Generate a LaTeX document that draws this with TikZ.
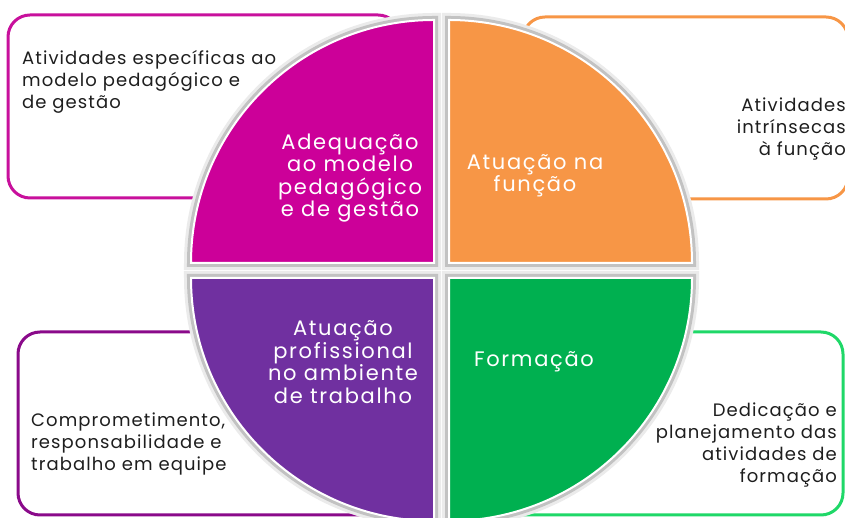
\documentclass[tikz,border=0pt]{standalone}
\usepackage{fontspec}
\setmainfont{Poppins}
\newfontfamily\boxfont[LetterSpace=6]{Poppins}
\newfontfamily\quadfont[LetterSpace=8]{Poppins}
\usetikzlibrary{positioning}

\definecolor{magentaQ}{HTML}{CC0099}
\definecolor{orangeQ}{HTML}{F79646}
\definecolor{purpleQ}{HTML}{7030A0}
\definecolor{greenQ}{HTML}{00B050}
\definecolor{magentaB}{HTML}{C8109C}
\definecolor{purpleB}{HTML}{8A0A8A}
\definecolor{greenB}{HTML}{1FD868}
\definecolor{textB}{HTML}{1E1E1E}

\tikzset{
  outerbox/.style={shape=rectangle,rounded corners=22pt,line width=3pt,fill=white,inner sep=0pt},
  quadrant/.style={fill=#1,draw=white,line width=2pt,
    preaction={draw=black!8,line width=14pt},
    preaction={draw=black!24,line width=8pt}},
  boxtext/.style={font=\boxfont\fontsize{18}{22}\selectfont,text=textB,inner sep=0pt},
  quadtext/.style={font=\quadfont\fontsize{21}{22.5}\selectfont,text=white,align=center,inner sep=0pt}
}

\begin{document}
\begin{tikzpicture}[x=1pt,y=1pt]
\useasboundingbox (0,0) rectangle (845,518);

% outer boxes
\node[outerbox,draw=magentaB,minimum width=392pt,minimum height=183pt] (boxTL) at (204,411.5) {};
\node[outerbox,draw=orangeQ,minimum width=325pt,minimum height=182pt] (boxTR) at (685.5,410) {};
\node[outerbox,draw=purpleB,minimum width=382pt,minimum height=183pt] (boxBL) at (209,94.5) {};
\node[outerbox,draw=greenB,minimum width=363pt,minimum height=183pt] (boxBR) at (661.5,94.5) {};

% quadrants
\path[quadrant=magentaQ] (434,255) -- (191,255) arc[start angle=180,end angle=90,radius=243pt] -- cycle;
\path[quadrant=orangeQ] (449,255) -- (449,498) arc[start angle=90,end angle=0,radius=243pt] -- cycle;
\path[quadrant=purpleQ] (434,240) -- (191,240) arc[start angle=180,end angle=270,radius=243pt] -- cycle;
\path[quadrant=greenQ] (449,240) -- (692,240) arc[start angle=0,end angle=-90,radius=243pt] -- cycle;

% quadrant labels
\node[quadtext] (qTL) at (350,340) {Adequação\\ao modelo\\pedagógico\\e de gestão};
\node[quadtext] (qTR) at (535,342) {Atuação na\\função};
\node[quadtext] (qBL) at (343,156) {Atuação\\profissional\\no ambiente\\de trabalho};
\node[quadtext] (qBR) at (534,156) {Formação};

% box texts
\node[boxtext,align=left,anchor=north west] (tTL) at (22,468) {Atividades específicas ao\\modelo pedagógico e\\de gestão};
\node[boxtext,align=right,anchor=north east] (tTR) at (846,420) {Atividades\\intrínsecas\\à função};
\node[boxtext,align=left,anchor=north west] (tBL) at (31,105) {Comprometimento,\\responsabilidade e\\trabalho em equipe};
\node[boxtext,align=right,anchor=north east] (tBR) at (837,115) {Dedicação e\\planejamento das\\atividades de\\formação};
\end{tikzpicture}
\end{document}
